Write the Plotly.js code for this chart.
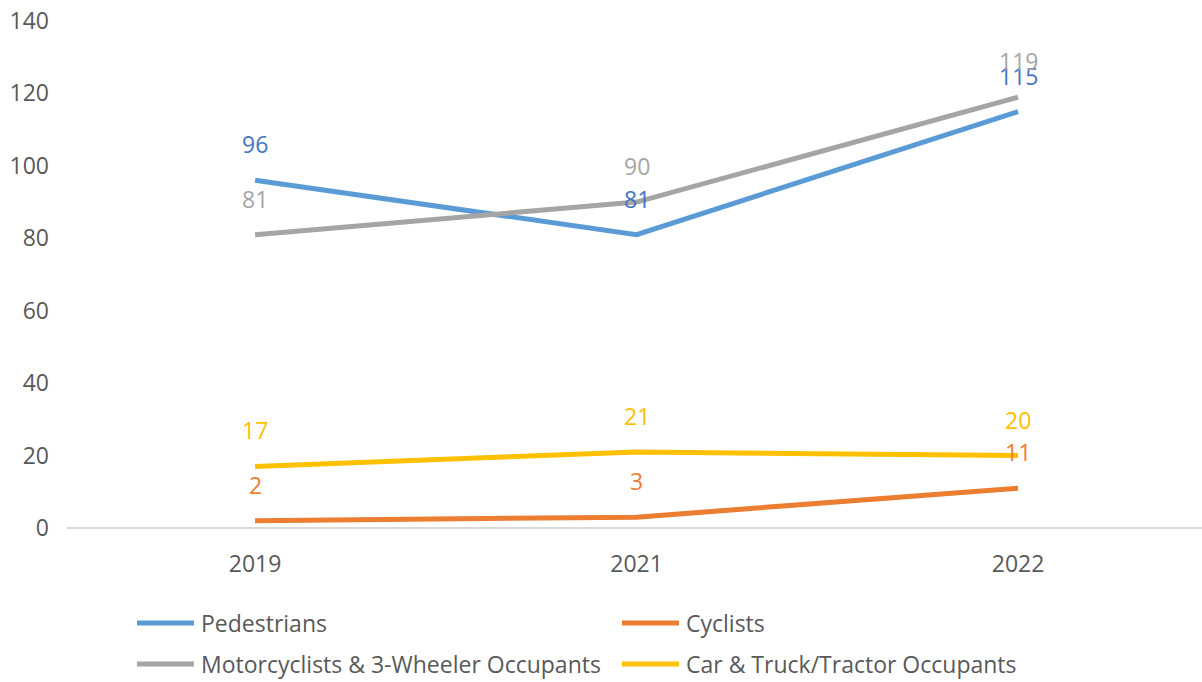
<!DOCTYPE html>
<html>
<head>
<meta charset="utf-8">
<script src="https://cdn.plot.ly/plotly-3.0.1.min.js"></script>
<style>html,body{margin:0;padding:0;background:#fff;}#chart{width:1202px;height:682px;}</style>
</head>
<body>
<div id="chart"></div>
<script>
const years = ["2019", "2021", "2022"];
const seriesNames = ["Pedestrians", "Cyclists", "Motorcyclists & 3-Wheeler Occupants", "Car & Truck/Tractor Occupants"];
const pedestrians = [96, 81, 115];
const cyclists = [2, 3, 11];
const motorcyclists = [81, 90, 119];
const carTruck = [17, 21, 20];
const yTicks = [0, 20, 40, 60, 80, 100, 120, 140];

const seriesValues = [pedestrians, cyclists, motorcyclists, carTruck];
const lineColors = ["#5B9BD5", "#ED7D31", "#A5A5A5", "#FFC000"];
const labelColors = ["#4472C4", "#ED7D31", "#A5A5A5", "#FFC000"];
const traces = seriesValues.map((vals, i) => ({
  type: "scatter", mode: "lines", x: years, y: vals, name: seriesNames[i],
  line: {color: lineColors[i], width: 5}, hoverinfo: "x+y+name", showlegend: false
}));

const font = "'Open Sans', 'Noto Sans', sans-serif";
const fs = 23;
const annotations = [];
seriesValues.forEach((vals, i) => {
  vals.forEach((v, j) => {
    annotations.push({x: j, y: v, xref: "x", yref: "y", text: String(v),
      showarrow: false, yshift: 36, xanchor: "center", yanchor: "middle",
      font: {family: font, size: fs, color: labelColors[i]}});
  });
});

// custom legend (2 columns)
const shapes = [];
const legendPos = [[137, 623], [622, 623], [137, 664], [622, 664]];
const W = 1202, H = 682;
const mL = 67, mR = 0, mT = 21, mB = 682 - 528;
const pw = W - mL - mR, ph = H - mT - mB;
function px2x(px) { return (px - mL) / pw; }
function py2y(py) { return (H - mB - py) / ph; }
seriesNames.forEach((n, i) => {
  const [lx, ly] = legendPos[i];
  shapes.push({type: "line", xref: "paper", yref: "paper",
    x0: px2x(lx), x1: px2x(lx + 57), y0: py2y(ly), y1: py2y(ly),
    line: {color: lineColors[i], width: 5}});
  annotations.push({xref: "paper", yref: "paper", x: px2x(lx + 62), y: py2y(ly),
    xanchor: "left", yanchor: "middle", showarrow: false, text: n,
    font: {family: font, size: fs, color: "#595959"}});
});

const layout = {
  width: W, height: H,
  margin: {l: mL, r: mR, t: mT, b: mB},
  paper_bgcolor: "#ffffff", plot_bgcolor: "#ffffff",
  showlegend: false,
  xaxis: {type: "category", range: [-0.493, 2.482], showgrid: false, zeroline: false,
    showline: false, ticks: "", ticklabelstandoff: 20,
    tickfont: {family: font, size: fs, color: "#595959"}},
  yaxis: {range: [0, 140], tickvals: yTicks, ticktext: yTicks.map(String),
    showgrid: false, zeroline: true, zerolinecolor: "#D9D9D9", zerolinewidth: 1.5,
    showline: false, ticks: "", ticklabelstandoff: 17,
    tickfont: {family: font, size: fs, color: "#595959"}},
  annotations: annotations, shapes: shapes
};
Plotly.newPlot("chart", traces, layout, {displayModeBar: false, staticPlot: true});
</script>
</body>
</html>
